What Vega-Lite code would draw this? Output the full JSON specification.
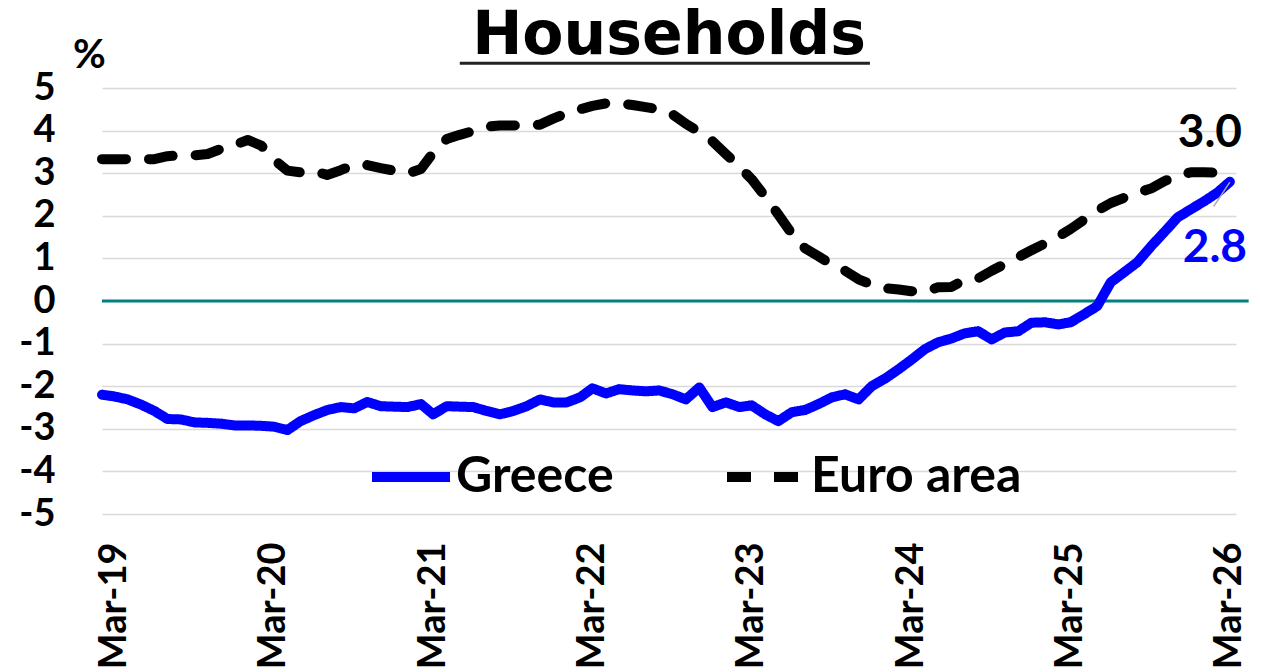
{
  "$schema": "https://vega.github.io/schema/vega-lite/v6.json",
  "width": 1134,
  "height": 426,
  "autosize": {"type": "none"},
  "padding": {"left": 102, "top": 88, "right": 25, "bottom": 158},
  "background": "white",
  "config": {"view": {"stroke": null}, "font": "Lato"},
  "title": {"text": "Households", "font": "DejaVu Sans", "fontSize": 60, "fontWeight": "bold", "color": "#000000", "anchor": "middle", "frame": "group", "baseline": "alphabetic", "offset": 0, "dy": 79},
  "datasets": {
    "series": [
      {"d": "2019-02-01", "Greece": -2.20, "Euro area": 3.33},
      {"d": "2019-03-01", "Greece": -2.24, "Euro area": 3.33},
      {"d": "2019-04-01", "Greece": -2.31, "Euro area": 3.33},
      {"d": "2019-05-01", "Greece": -2.43, "Euro area": 3.33},
      {"d": "2019-06-01", "Greece": -2.58, "Euro area": 3.33},
      {"d": "2019-07-01", "Greece": -2.77, "Euro area": 3.40},
      {"d": "2019-08-01", "Greece": -2.78, "Euro area": 3.42},
      {"d": "2019-09-01", "Greece": -2.85, "Euro area": 3.42},
      {"d": "2019-10-01", "Greece": -2.86, "Euro area": 3.45},
      {"d": "2019-11-01", "Greece": -2.88, "Euro area": 3.57},
      {"d": "2019-12-01", "Greece": -2.92, "Euro area": 3.66},
      {"d": "2020-01-01", "Greece": -2.92, "Euro area": 3.78},
      {"d": "2020-02-01", "Greece": -2.93, "Euro area": 3.65},
      {"d": "2020-03-01", "Greece": -2.95, "Euro area": 3.32},
      {"d": "2020-04-01", "Greece": -3.03, "Euro area": 3.06},
      {"d": "2020-05-01", "Greece": -2.82, "Euro area": 3.02},
      {"d": "2020-06-01", "Greece": -2.68, "Euro area": 3.05},
      {"d": "2020-07-01", "Greece": -2.56, "Euro area": 2.96},
      {"d": "2020-08-01", "Greece": -2.49, "Euro area": 3.07},
      {"d": "2020-09-01", "Greece": -2.52, "Euro area": 3.20},
      {"d": "2020-10-01", "Greece": -2.37, "Euro area": 3.19},
      {"d": "2020-11-01", "Greece": -2.47, "Euro area": 3.12},
      {"d": "2020-12-01", "Greece": -2.48, "Euro area": 3.06},
      {"d": "2021-01-01", "Greece": -2.49, "Euro area": 2.99},
      {"d": "2021-02-01", "Greece": -2.42, "Euro area": 3.10},
      {"d": "2021-03-01", "Greece": -2.66, "Euro area": 3.48},
      {"d": "2021-04-01", "Greece": -2.47, "Euro area": 3.80},
      {"d": "2021-05-01", "Greece": -2.48, "Euro area": 3.90},
      {"d": "2021-06-01", "Greece": -2.49, "Euro area": 3.99},
      {"d": "2021-07-01", "Greece": -2.58, "Euro area": 4.09},
      {"d": "2021-08-01", "Greece": -2.66, "Euro area": 4.12},
      {"d": "2021-09-01", "Greece": -2.58, "Euro area": 4.12},
      {"d": "2021-10-01", "Greece": -2.47, "Euro area": 4.12},
      {"d": "2021-11-01", "Greece": -2.31, "Euro area": 4.14},
      {"d": "2021-12-01", "Greece": -2.38, "Euro area": 4.28},
      {"d": "2022-01-01", "Greece": -2.38, "Euro area": 4.41},
      {"d": "2022-02-01", "Greece": -2.26, "Euro area": 4.50},
      {"d": "2022-03-01", "Greece": -2.05, "Euro area": 4.58},
      {"d": "2022-04-01", "Greece": -2.17, "Euro area": 4.64},
      {"d": "2022-05-01", "Greece": -2.07, "Euro area": 4.64},
      {"d": "2022-06-01", "Greece": -2.10, "Euro area": 4.60},
      {"d": "2022-07-01", "Greece": -2.12, "Euro area": 4.55},
      {"d": "2022-08-01", "Greece": -2.10, "Euro area": 4.50},
      {"d": "2022-09-01", "Greece": -2.19, "Euro area": 4.38},
      {"d": "2022-10-01", "Greece": -2.31, "Euro area": 4.16},
      {"d": "2022-11-01", "Greece": -2.03, "Euro area": 3.97},
      {"d": "2022-12-01", "Greece": -2.49, "Euro area": 3.75},
      {"d": "2023-01-01", "Greece": -2.38, "Euro area": 3.45},
      {"d": "2023-02-01", "Greece": -2.49, "Euro area": 3.15},
      {"d": "2023-03-01", "Greece": -2.45, "Euro area": 2.86},
      {"d": "2023-04-01", "Greece": -2.66, "Euro area": 2.45},
      {"d": "2023-05-01", "Greece": -2.82, "Euro area": 2.03},
      {"d": "2023-06-01", "Greece": -2.61, "Euro area": 1.58},
      {"d": "2023-07-01", "Greece": -2.56, "Euro area": 1.24},
      {"d": "2023-08-01", "Greece": -2.42, "Euro area": 1.05},
      {"d": "2023-09-01", "Greece": -2.26, "Euro area": 0.85},
      {"d": "2023-10-01", "Greece": -2.19, "Euro area": 0.71},
      {"d": "2023-11-01", "Greece": -2.31, "Euro area": 0.51},
      {"d": "2023-12-01", "Greece": -2.00, "Euro area": 0.38},
      {"d": "2024-01-01", "Greece": -1.82, "Euro area": 0.30},
      {"d": "2024-02-01", "Greece": -1.60, "Euro area": 0.27},
      {"d": "2024-03-01", "Greece": -1.38, "Euro area": 0.23},
      {"d": "2024-04-01", "Greece": -1.13, "Euro area": 0.22},
      {"d": "2024-05-01", "Greece": -0.97, "Euro area": 0.32},
      {"d": "2024-06-01", "Greece": -0.88, "Euro area": 0.33},
      {"d": "2024-07-01", "Greece": -0.76, "Euro area": 0.50},
      {"d": "2024-08-01", "Greece": -0.71, "Euro area": 0.53},
      {"d": "2024-09-01", "Greece": -0.90, "Euro area": 0.71},
      {"d": "2024-10-01", "Greece": -0.74, "Euro area": 0.87},
      {"d": "2024-11-01", "Greece": -0.71, "Euro area": 1.03},
      {"d": "2024-12-01", "Greece": -0.51, "Euro area": 1.19},
      {"d": "2025-01-01", "Greece": -0.50, "Euro area": 1.35},
      {"d": "2025-02-01", "Greece": -0.55, "Euro area": 1.51},
      {"d": "2025-03-01", "Greece": -0.50, "Euro area": 1.69},
      {"d": "2025-04-01", "Greece": -0.31, "Euro area": 1.91},
      {"d": "2025-05-01", "Greece": -0.12, "Euro area": 2.12},
      {"d": "2025-06-01", "Greece": 0.44, "Euro area": 2.30},
      {"d": "2025-07-01", "Greece": 0.67, "Euro area": 2.42},
      {"d": "2025-08-01", "Greece": 0.91, "Euro area": 2.54},
      {"d": "2025-09-01", "Greece": 1.28, "Euro area": 2.64},
      {"d": "2025-10-01", "Greece": 1.61, "Euro area": 2.81},
      {"d": "2025-11-01", "Greece": 1.96, "Euro area": 2.94},
      {"d": "2025-12-01", "Greece": 2.15, "Euro area": 3.02},
      {"d": "2026-01-01", "Greece": 2.34, "Euro area": 3.02},
      {"d": "2026-02-01", "Greece": 2.55, "Euro area": 3.01},
      {"d": "2026-03-01", "Greece": 2.80, "Euro area": 3.00}
    ],
    "labels": [
      {"d": "2026-03-01", "series": "Euro area", "value": 3.0},
      {"d": "2026-03-01", "series": "Greece", "value": 2.8}
    ]
  },
  "layer": [
    {
      "data": {"values": [{}]},
      "mark": {"type": "rule", "color": "#008080", "strokeWidth": 3},
      "encoding": {
        "x": {"datum": {"year": 2019, "month": 2, "date": 1, "utc": true}, "type": "temporal"},
        "x2": {"datum": {"year": 2026, "month": 4, "date": 13, "utc": true}},
        "y": {"datum": 0, "type": "quantitative"}
      }
    },
    {
      "data": {"name": "series"},
      "transform": [{"fold": ["Greece", "Euro area"], "as": ["series", "value"]}],
      "mark": {"type": "line", "strokeWidth": 10, "strokeCap": "round", "strokeJoin": "round"},
      "encoding": {
        "x": {
          "field": "d", "type": "temporal",
          "scale": {"type": "utc", "domain": [{"year": 2019, "month": 2, "date": 1, "utc": true}, {"year": 2026, "month": 3, "date": 15, "utc": true}]},
          "axis": {
            "values": [
              {"year": 2019, "month": 3, "date": 1, "utc": true},
              {"year": 2020, "month": 3, "date": 1, "utc": true},
              {"year": 2021, "month": 3, "date": 1, "utc": true},
              {"year": 2022, "month": 3, "date": 1, "utc": true},
              {"year": 2023, "month": 3, "date": 1, "utc": true},
              {"year": 2024, "month": 3, "date": 1, "utc": true},
              {"year": 2025, "month": 3, "date": 1, "utc": true},
              {"year": 2026, "month": 3, "date": 1, "utc": true}
            ],
            "labelExpr": "utcFormat(datum.value, '%b-%y')",
            "labelAngle": -90, "labelPadding": 28,
            "grid": false, "ticks": false, "domain": false, "title": null,
            "labelFont": "Lato", "labelFontSize": 38, "labelFontWeight": "bold", "labelColor": "#000000",
            "labelOverlap": false, "labelFlush": false, "labelBound": false
          }
        },
        "y": {
          "field": "value", "type": "quantitative",
          "scale": {"domain": [-5, 5], "nice": false, "zero": false},
          "axis": {
            "values": [-5, -4, -3, -2, -1, 0, 1, 2, 3, 4, 5],
            "labelExpr": "'' + datum.value",
            "title": "%", "titleAngle": 0, "titleFont": "Lato", "titleFontSize": 40, "titleFontWeight": "bold", "titleColor": "#000000",
            "titleX": -13, "titleY": -21, "titleAlign": "center", "titleBaseline": "alphabetic",
            "grid": true, "gridColor": "#d9d9d9", "gridWidth": 1.5,
            "domain": false, "ticks": false,
            "labelFont": "Lato", "labelFontSize": 38, "labelFontWeight": "bold", "labelColor": "#000000",
            "labelPadding": 47, "labelOverlap": false, "labelFlush": false
          }
        },
        "color": {
          "field": "series", "type": "nominal",
          "scale": {"domain": ["Greece", "Euro area"], "range": ["#0000ff", "#000000"]},
          "legend": {"title": null, "orient": "none", "legendX": 265, "legendY": 345, "direction": "horizontal", "symbolType": "stroke", "symbolSize": 6084, "symbolStrokeWidth": 10, "labelFont": "Lato", "labelFontSize": 50, "labelFontWeight": "bold", "labelColor": "#000000", "labelOffset": 1, "columnPadding": 93, "padding": 0, "labelLimit": 0}
        },
        "strokeDash": {
          "field": "series", "type": "nominal",
          "scale": {"domain": ["Greece", "Euro area"], "range": [[1, 0], [24, 23]]},
          "legend": {"title": null, "orient": "none", "legendX": 265, "legendY": 345, "direction": "horizontal", "symbolType": "stroke", "symbolSize": 6084, "symbolStrokeWidth": 10, "labelFont": "Lato", "labelFontSize": 50, "labelFontWeight": "bold", "labelColor": "#000000", "labelOffset": 1, "columnPadding": 93, "padding": 0, "labelLimit": 0}
        }
      }
    },
    {
      "data": {"name": "labels"},
      "transform": [{"filter": "datum.series === 'Euro area'"}],
      "mark": {"type": "text", "font": "Lato", "fontSize": 46, "fontWeight": "bold", "color": "#000000", "dx": -20, "dy": -26, "baseline": "alphabetic", "align": "center"},
      "encoding": {
        "x": {"field": "d", "type": "temporal"},
        "y": {"field": "value", "type": "quantitative"},
        "text": {"field": "value", "type": "quantitative", "format": ".1f"}
      }
    },
    {
      "data": {"name": "labels"},
      "transform": [{"filter": "datum.series === 'Greece'"}],
      "mark": {"type": "text", "font": "Lato", "fontSize": 46, "fontWeight": "bold", "color": "#0000ff", "dx": -15, "dy": 80, "baseline": "alphabetic", "align": "center"},
      "encoding": {
        "x": {"field": "d", "type": "temporal"},
        "y": {"field": "value", "type": "quantitative"},
        "text": {"field": "value", "type": "quantitative", "format": ".1f"}
      }
    },
    {
      "data": {"values": [{}]},
      "mark": {"type": "rule", "color": "#a6a6a6", "strokeWidth": 1.5},
      "encoding": {
        "x": {"datum": {"year": 2026, "month": 3, "date": 1, "utc": true}, "type": "temporal"},
        "x2": {"datum": {"year": 2026, "month": 1, "date": 23, "utc": true}},
        "y": {"datum": 2.79, "type": "quantitative"},
        "y2": {"datum": 2.22}
      }
    },
    {
      "data": {"values": [{}]},
      "mark": {"type": "rule", "color": "#222222", "strokeWidth": 3},
      "encoding": {
        "x": {"datum": {"year": 2021, "month": 5, "date": 1, "utc": true}, "type": "temporal"},
        "x2": {"datum": {"year": 2023, "month": 11, "date": 27, "utc": true}},
        "y": {"datum": 5.58, "type": "quantitative"}
      }
    }
  ]
}
